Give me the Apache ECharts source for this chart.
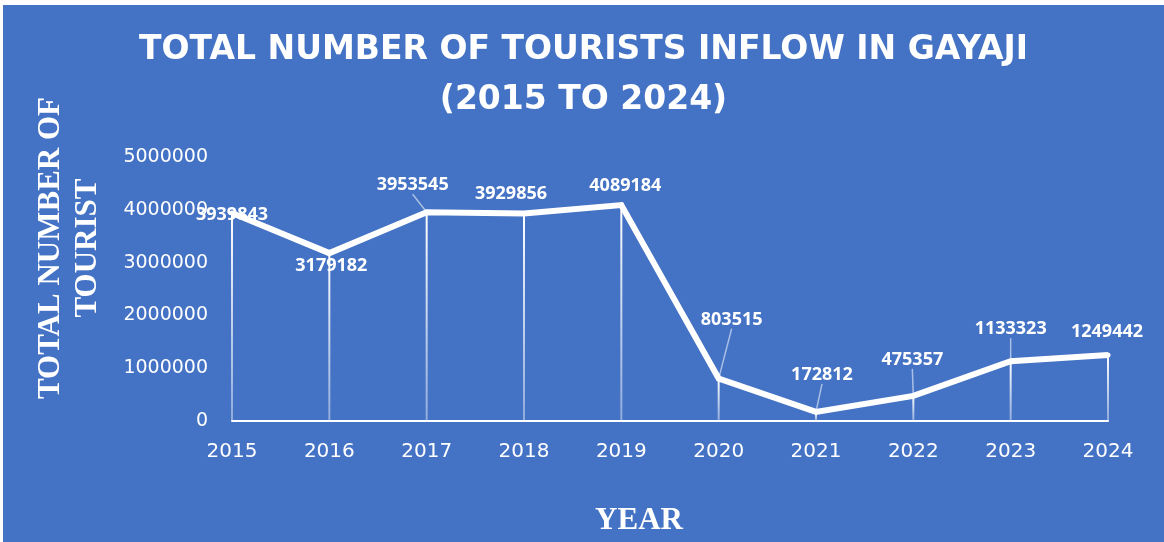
<!DOCTYPE html>
<html>
<head>
<meta charset="utf-8">
<script src="https://cdn.jsdelivr.net/npm/echarts@6/dist/echarts.min.js"></script>
<style>
html,body{margin:0;padding:0;background:#ffffff;}
#main{position:absolute;left:3px;top:5px;width:1161px;height:537px;}
</style>
</head>
<body>
<div id="main"></div>
<script>
const years = ['2015','2016','2017','2018','2019','2020','2021','2022','2023','2024'];
const tourists = [3939843, 3179182, 3953545, 3929856, 4089184, 803515, 172812, 475357, 1133323, 1249442];
const titleText = 'TOTAL NUMBER OF TOURISTS INFLOW IN GAYAJI\n(2015 TO 2024)';
const yAxisTitle = 'TOTAL NUMBER OF\nTOURIST';
const xAxisTitle = 'YEAR';

// label placement (pixel offsets from each point), styling only
const labelShift = [[0,2],[2,13],[-14,-27],[-13,-20],[4,-19],[13,-59],[6,-37],[-1,-36],[0,-32],[-1,-23]];
const showGuide = [false,false,true,false,false,true,true,true,true,false];

const chart = echarts.init(document.getElementById('main'));
const ox = 3, oy = 5;
chart.setOption({
  animation: false,
  backgroundColor: '#4472C4',
  title: {
    text: titleText,
    left: 'center',
    top: 25 - oy,
    padding: 0,
    textStyle: {
      color: '#ffffff',
      fontFamily: 'DejaVu Sans',
      fontWeight: 'bold',
      fontSize: 33,
      lineHeight: 50
    }
  },
  graphic: [
    {
      type: 'text',
      x: 69 - ox, y: 248 - oy,
      rotation: Math.PI / 2,
      style: {
        text: yAxisTitle,
        fill: '#ffffff',
        font: 'bold 31px "Liberation Serif"',
        lineHeight: 37,
        align: 'center',
        verticalAlign: 'middle'
      }
    },
    {
      type: 'text',
      x: 639 - ox, y: 521 - oy,
      style: {
        text: xAxisTitle,
        fill: '#ffffff',
        font: 'bold 31px "Liberation Serif"',
        align: 'center',
        verticalAlign: 'middle'
      }
    }
  ],
  grid: {
    left: 232 - ox,
    right: 56,
    top: 157 - oy,
    bottom: 121,
    containLabel: false
  },
  xAxis: {
    type: 'category',
    data: years,
    boundaryGap: false,
    axisLine: { show: true, lineStyle: { color: '#ffffff', width: 2 } },
    axisTick: { show: false },
    axisLabel: {
      color: '#ffffff',
      fontFamily: 'DejaVu Sans',
      fontSize: 20,
      margin: 21
    },
    splitLine: { show: false }
  },
  yAxis: {
    type: 'value',
    min: 0,
    max: 5000000,
    interval: 1000000,
    axisLine: { show: false },
    axisTick: { show: false },
    splitLine: { show: false },
    axisLabel: {
      color: '#ffffff',
      fontFamily: 'DejaVu Sans',
      fontSize: 19,
      margin: 24,
      formatter: function (v) { return String(v); }
    }
  },
  series: [
    {
      type: 'bar',
      data: tourists,
      barWidth: 2,
      silent: true,
      z: 1,
      itemStyle: {
        color: {
          type: 'linear', x: 0, y: 0, x2: 0, y2: 1,
          colorStops: [
            { offset: 0, color: 'rgba(255,255,255,1)' },
            { offset: 1, color: 'rgba(255,255,255,0.4)' }
          ]
        }
      }
    },
    {
      type: 'line',
      z: 3,
      data: tourists.map((v, i) => ({ value: v, labelLine: { show: showGuide[i] } })),
      symbol: 'circle',
      symbolSize: 5,
      itemStyle: { color: '#ffffff' },
      lineStyle: { color: '#ffffff', width: 6, join: 'miter' },
      label: {
        show: true,
        position: 'inside',
        color: '#ffffff',
        fontFamily: 'Open Sans',
        fontWeight: 'bold',
        fontSize: 18
      },
      labelLine: {
        show: false,
        lineStyle: { color: 'rgba(255,255,255,0.55)', width: 1.5 }
      },
      labelLayout: function (p) {
        const s = labelShift[p.dataIndex];
        return { dx: s[0], dy: s[1] };
      }
    }
  ]
});
</script>
</body>
</html>
